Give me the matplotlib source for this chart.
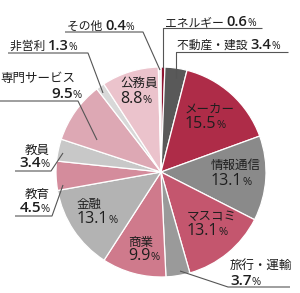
import matplotlib
matplotlib.use("Agg")
import matplotlib.pyplot as plt

W, H = 300, 293

categories = ["エネルギー", "不動産・建設", "メーカー", "情報通信", "マスコミ", "旅行・運輸",
              "商業", "金融", "教育", "教員", "専門サービス", "非営利", "公務員", "その他"]
values = [0.6, 3.4, 15.5, 13.1, 13.1, 3.7, 9.9, 13.1, 4.5, 3.4, 9.5, 1.3, 8.8, 0.4]
value_labels = ["0.6", "3.4", "15.5", "13.1", "13.1", "3.7", "9.9", "13.1", "4.5", "3.4", "9.5", "1.3", "8.8", "0.4"]
colors = ["#8E1330", "#595959", "#AE2C48", "#8A8A8A", "#C4566E", "#9A9A9A",
          "#CF7A8C", "#B3B3B3", "#D48C9C", "#C8C8C8", "#DDA8B4", "#D8D8D8", "#EBC3CC", "#F4F4F4"]

JP = ["Noto Sans CJK JP", "DejaVu Sans"]
NUM = ["Open Sans", "DejaVu Sans"]
TXT = "#1e1e1e"
LINE = "#555555"

fig = plt.figure(figsize=(W / 100, H / 100), dpi=100)
ax = fig.add_axes([0, 0, 1, 1])
CX, CY, R = 161, 172, 105
ax.pie(values, colors=colors, startangle=90, counterclock=False,
       center=(CX, H - CY), radius=R,
       wedgeprops=dict(edgecolor="white", linewidth=0.9))
ax.set_xlim(0, W)
ax.set_ylim(0, H)
ax.set_aspect("equal")
ax.axis("off")

renderer = fig.canvas.get_renderer()


def chain(x, y, parts, ha="left"):
    texts, widths = [], []
    for s, size, weight, fam in parts:
        t = ax.text(0, 0, s, fontsize=size, fontweight=weight, family=fam,
                    va="baseline", ha="left", color=TXT)
        widths.append(t.get_window_extent(renderer=renderer).width)
        texts.append(t)
    total = sum(widths)
    x0 = x if ha == "left" else x - total
    for t, w in zip(texts, widths):
        t.set_position((x0, H - y))
        x0 += w


def line(pts):
    xs = [p[0] for p in pts]
    ys = [H - p[1] for p in pts]
    ax.plot(xs, ys, color=LINE, lw=0.8, solid_capstyle="butt")


idx = {c: i for i, c in enumerate(categories)}

# inside labels: (x, name baseline, value baseline)
inside = {"公務員": (120, 87, 103), "メーカー": (185, 113, 128), "情報通信": (211, 169, 185),
          "マスコミ": (187, 220, 235), "商業": (128, 246, 260), "金融": (77, 208, 223)}
for name, (x, yn, yv) in inside.items():
    chain(x, yn, [(name, 9, "normal", JP)])
    chain(x, yv, [(value_labels[idx[name]], 11.5, "normal", NUM), ("%", 8, "normal", NUM)])

# one-line outside labels
oneline = {"その他": (67, 30), "非営利": (10, 50), "エネルギー": (165, 26), "不動産・建設": (177, 49)}
for name, (x, y) in oneline.items():
    chain(x, y, [(name + " ", 8.5, "normal", JP),
                 (value_labels[idx[name]], 10.5, "semibold", NUM), ("%", 7.5, "normal", NUM)])

# two-line outside labels
twoline = {"専門サービス": (0, 82, 82, 98, "left", "right"),
           "教員": (50, 154, 50, 167, "right", "right"),
           "教育": (50, 198, 50, 212, "right", "right"),
           "旅行・運輸": (230, 269, 230, 285, "left", "left")}
for name, (xn, yn, xv, yv, han, hav) in twoline.items():
    chain(xn, yn, [(name, 9, "normal", JP)], ha=han)
    chain(xv, yv, [(value_labels[idx[name]], 11, "semibold", NUM), ("%", 8, "normal", NUM)], ha=hav)

# leader lines
line([(65, 32), (143, 32), (160, 70)])
line([(8, 53), (88, 53), (103, 93)])
line([(0, 101), (78, 101), (97, 140)])
line([(15, 171), (51, 171), (63, 153)])
line([(15, 216), (52, 216), (63, 185)])
line([(180, 271), (228, 287), (290, 287)])
line([(262, 28), (163, 28), (163, 68)])
line([(288, 52), (176, 52), (176, 78)])

fig.savefig("out.png", dpi=100)
